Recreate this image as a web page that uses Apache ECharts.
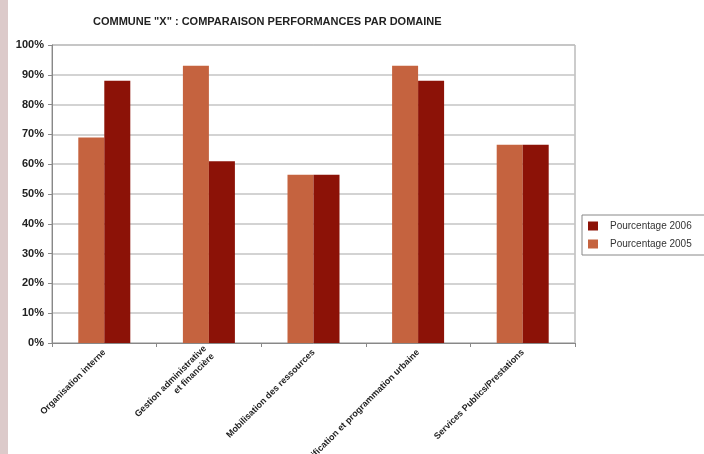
<!DOCTYPE html>
<html>
<head>
<meta charset="utf-8">
<script src="https://cdn.jsdelivr.net/npm/echarts@6/dist/echarts.min.js"></script>
<style>
  html, body { margin: 0; padding: 0; background: #fff; }
  #wrap { position: relative; width: 704px; height: 454px; }
  #strip { position: absolute; left: 0; top: 0; width: 8px; height: 454px; background: #dccaca; }
  #chart { position: absolute; left: 0; top: 0; width: 704px; height: 454px; }
</style>
</head>
<body>
<div id="wrap">
  <div id="chart"></div>
  <div id="strip"></div>
</div>
<script>
// domaines
const categories = [
  "Organisation interne",
  "Gestion administrative\net financière",
  "Mobilisation des ressources",
  "Planification et programmation urbaine",
  "Services Publics/Prestations"
];
const seriesNames = ["Pourcentage 2005", "Pourcentage 2006"];
const values2005 = [69, 93, 56.5, 93, 66.5];
const values2006 = [88, 61, 56.5, 88, 66.5];
const yTicks = [0, 10, 20, 30, 40, 50, 60, 70, 80, 90, 100];

const chart = echarts.init(document.getElementById("chart"));

const option = {
  animation: false,
  title: {
    text: 'COMMUNE "X" : COMPARAISON PERFORMANCES PAR DOMAINE',
    left: 88,
    top: 11,
    textStyle: {
      fontFamily: "Liberation Sans",
      fontSize: 11,
      fontWeight: "bold",
      color: "#222"
    }
  },
  legend: {
    data: [seriesNames[1], seriesNames[0]],
    orient: "vertical",
    left: 582,
    top: 215,
    icon: "rect",
    itemWidth: 10,
    itemHeight: 9,
    itemGap: 8,
    padding: [6, 40, 6, 6],
    borderColor: "#888",
    borderWidth: 1,
    textStyle: { fontFamily: "Liberation Sans", fontSize: 10, color: "#333", padding: [0, 0, 0, 7] }
  },
  grid: {
    left: 52,
    right: 129,
    top: 45,
    bottom: 111,
    outerBoundsMode: "none",
    containLabel: false,
    show: true,
    borderColor: "#999",
    borderWidth: 1
  },
  xAxis: {
    type: "category",
    data: categories,
    axisLine: { lineStyle: { color: "#888" } },
    axisTick: { show: true, length: 4, lineStyle: { color: "#888" } },
    axisLabel: {
      rotate: 45,
      interval: 0,
      margin: 8,
      fontFamily: "Liberation Sans",
      fontSize: 9,
      fontWeight: "bold",
      color: "#222",
      lineHeight: 11
    }
  },
  yAxis: {
    type: "value",
    min: 0,
    max: 100,
    interval: 10,
    axisLine: { show: true, lineStyle: { color: "#888" } },
    axisTick: { show: true, length: 4, lineStyle: { color: "#888" } },
    splitLine: { lineStyle: { color: "#c4c4c4", width: 1.5 } },
    axisLabel: {
      margin: 8,
      fontFamily: "Liberation Sans",
      fontSize: 11,
      fontWeight: "bold",
      color: "#222",
      formatter: function (v) { return yTicks.indexOf(v) >= 0 ? v + "%" : ""; }
    }
  },
  series: [
    {
      name: seriesNames[0],
      type: "bar",
      data: values2005,
      barWidth: 26,
      barGap: "0%",
      itemStyle: { color: "#c5633f" }
    },
    {
      name: seriesNames[1],
      type: "bar",
      data: values2006,
      barWidth: 26,
      barGap: "0%",
      itemStyle: { color: "#8c1207" }
    }
  ]
};

chart.setOption(option);
</script>
</body>
</html>
